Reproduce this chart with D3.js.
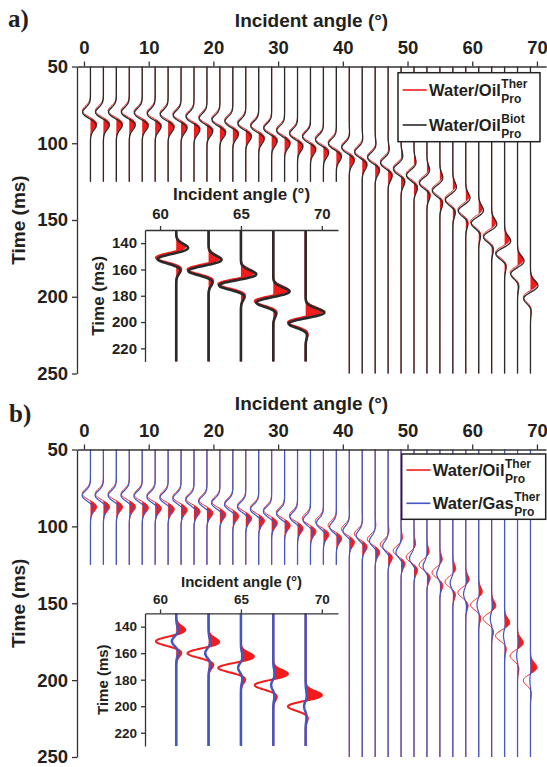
<!DOCTYPE html>
<html>
<head>
<meta charset="utf-8">
<script src="https://cdn.jsdelivr.net/npm/d3@7"></script>
<style>
  body { margin: 0; background: #fff; }
  svg text { font-family: "Liberation Sans", Arial, sans-serif; font-weight: bold; fill: #231f20; }
</style>
</head>
<body>
<svg id="chart" width="547" height="767"></svg>
<script>
// incident angles of the traces (deg)
var angles = [1,3,5,7,9,11,13,15,17,19,21,23,25,27,29,31,33,35,37,39,41,43,45,47,49,51,53,55,57,59,61,63,65,67,69];
var xTicks = [0,10,20,30,40,50,60,70];
var yTicks = [50,100,150,200,250];
var insetXTicks = [60,65,70];
var insetYTicks = [140,160,180,200,220];
var insetAngles = [61,63,65,67,69];

// Water/Oil, Biot model: time of the main trough (ms) and lobe amplitudes (deg of offset)
var tBiot     = [80,80,80,80,80.5,81,81.5,82,83,84,85,86,87.5,89,90.5,92,94,96,98,100.5,103,106,109.5,113,117,121,126,131,137,144,152,161,172,185,201];
var leadBiot  = [0,0,0,0,0,0,0,0,0,0,0,0,0,0,0,0,0,0,0,0,0.05,0.1,0.15,0.2,0.3,0.35,0.45,0.5,0.6,0.7,0.78,0.85,1.0,1.05,1.2];
var mainBiot  = [-1.25,-1.25,-1.25,-1.25,-1.25,-1.25,-1.25,-1.25,-1.25,-1.25,-1.25,-1.25,-1.25,-1.25,-1.25,-1.25,-1.25,-1.25,-1.25,-1.25,-1.2,-1.2,-1.2,-1.2,-1.2,-1.2,-1.2,-1.2,-1.2,-1.2,-1.2,-1.3,-1.4,-1.1,-1.1];
var trailBiot = [0.95,0.95,0.95,0.95,0.95,0.95,0.95,0.95,0.94,0.93,0.92,0.91,0.9,0.89,0.88,0.87,0.86,0.85,0.84,0.82,0.8,0.75,0.7,0.65,0.6,0.55,0.5,0.45,0.4,0.35,0.3,0.28,0.25,0.2,0.12];

// Water/Oil, thermal model
var tTher     = [79,79,79,79,79.5,80,80.5,81,82,83,84,85,86.5,88,89.5,91,93,95,97,99.5,102,105,108.5,112,116,120,125,130,136,143,151,160,171,184,200];
var leadTher  = [0,0,0,0,0,0,0,0,0,0,0,0,0,0,0,0,0,0,0,0,0.05,0.08,0.12,0.16,0.24,0.28,0.36,0.4,0.48,0.56,0.6,0.7,0.85,0.95,1.05];
var mainTher  = [-1.3,-1.3,-1.3,-1.3,-1.3,-1.3,-1.3,-1.3,-1.3,-1.3,-1.3,-1.3,-1.3,-1.3,-1.3,-1.3,-1.3,-1.3,-1.3,-1.3,-1.25,-1.25,-1.25,-1.25,-1.25,-1.25,-1.25,-1.25,-1.25,-1.25,-1.3,-1.35,-1.45,-1.2,-1.15];
var trailTher = [1.0,1.0,1.0,1.0,1.0,1.0,1.0,1.0,0.99,0.98,0.97,0.96,0.95,0.94,0.93,0.92,0.91,0.9,0.89,0.87,0.85,0.8,0.75,0.7,0.65,0.6,0.55,0.5,0.45,0.4,0.35,0.33,0.3,0.25,0.16];

// Water/Gas, thermal model
var tGas      = [80,80,80,80,80.5,81,81.5,82,83,84,85,86,87.5,89,90.5,92,94,96,98,100.5,103,106,109.5,113,117,121,126,131,137,144,151,160,171,184,200];
var leadGas   = [0,0,0,0,0,0,0,0,0,0,0,0,0,0,0,0,0,0,0,0,0,0,0,0,0,0,0,0.05,0.08,0.1,0.12,0.12,0.12,0.1,0.08];
var mainGas   = [-1.3,-1.3,-1.3,-1.3,-1.3,-1.3,-1.3,-1.3,-1.3,-1.3,-1.3,-1.3,-1.3,-1.3,-1.3,-1.25,-1.2,-1.15,-1.1,-1.05,-1.0,-0.95,-0.9,-0.85,-0.8,-0.7,-0.6,-0.5,-0.42,-0.35,-0.28,-0.22,-0.18,-0.14,-0.1];
var trailGas  = [0.5,0.5,0.5,0.5,0.5,0.5,0.5,0.5,0.5,0.5,0.5,0.5,0.5,0.5,0.5,0.48,0.46,0.44,0.42,0.4,0.38,0.35,0.32,0.3,0.28,0.25,0.22,0.2,0.18,0.15,0.13,0.12,0.1,0.08,0.06];

var legendNamesA = ['Water/Oil', 'Water/Oil'];
var legendSupA = ['Ther', 'Biot'];
var legendNamesB = ['Water/Oil', 'Water/Gas'];
var legendSupB = ['Ther', 'Ther'];

var RED = '#f21c1c', BLACK = '#2a2a2a', BLUE = '#4456c0';
var LOBE_DT = 8, LOBE_SIGMA = 3.2;

var therOil = {time: tTher, lead: leadTher, main: mainTher, trail: trailTher, color: RED, fill: true, w: 1.0};
var biotOil = {time: tBiot, lead: leadBiot, main: mainBiot, trail: trailBiot, color: BLACK, w: 1.3};
var therGas = {time: tGas, lead: leadGas, main: mainGas, trail: trailGas, color: BLUE, w: 1.25};

var svg = d3.select('#chart');

function pulse(u) { return Math.exp(-u*u/(2*LOBE_SIGMA*LOBE_SIGMA)); }

// samples of one trace between t0 and t1 (ms)
function traceSamples(s, i, t0, t1) {
    var pts = [];
    for (var t = t0; t <= t1 + 1e-9; t += 0.5) {
        var c = s.time[i];
        var v = s.lead[i]*pulse(t - c + LOBE_DT) + s.main[i]*pulse(t - c) + s.trail[i]*pulse(t - c - LOBE_DT);
        pts.push({t: t, v: v});
    }
    return pts;
}

function drawWiggles(g, x, y, idx, series, tFrom, tTo, scale) {
    var fills = g.append('g'), lines = g.append('g');
    series.forEach(function(s) {
        idx.forEach(function(i) {
            var a = angles[i];
            var pts = traceSamples(s, i, tFrom, tTo(a));
            if (s.fill) {
                fills.append('path').datum(pts)
                    .attr('d', d3.area().y(function(d) { return y(d.t); })
                        .x0(x(a)).x1(function(d) { return x(a + Math.max(d.v, 0)); }))
                    .attr('fill', s.color);
            }
            lines.append('path').datum(pts)
                .attr('d', d3.line().x(function(d) { return x(a + d.v); }).y(function(d) { return y(d.t); }))
                .attr('fill', 'none').attr('stroke', s.color).attr('stroke-width', s.w*scale);
        });
    });
}

function styleAxis(sel, size) {
    sel.attr('font-family', null).attr('font-size', null);
    sel.selectAll('text').style('font-size', size + 'px');
    sel.selectAll('line,path').attr('stroke', '#333').attr('stroke-width', 1.3);
}

var panels = [
    {top: 66.5, bottom: 373.5, tag: 'a)', tagX: 8, tagY: 27, titleY: 26.7, series: [therOil, biotOil],
     names: legendNamesA, sups: legendSupA,
     legend: {x: 398, y: 72.7, w: 142, h: 69, rows: [90, 125]},
     inset: {top: 230, bottom: 361.5, titleY: 200, titleSize: 17, tickSize: 15, pad: 7.5, labelX: 104, labelSize: 17}},
    {top: 449.5, bottom: 757, tag: 'b)', tagX: 9, tagY: 422, titleY: 410, series: [therOil, therGas],
     names: legendNamesB, sups: legendSupB,
     legend: {x: 401.7, y: 454, w: 144, h: 65.3, rows: [470, 503.3]},
     inset: {top: 613.4, bottom: 746, titleY: 587, titleSize: 15, tickSize: 13.5, pad: 5.4, labelX: 108, labelSize: 15}}
];

var x = d3.scaleLinear().domain([-1.08, 71.4]).range([77, 546]);
var xIn = d3.scaleLinear().domain([59.07, 71]).range([145, 338]);

panels.forEach(function(p) {
    var y = d3.scaleLinear().domain([50, 250]).range([p.top, p.bottom]);
    var g = svg.append('g');

    drawWiggles(g, x, y, d3.range(angles.length), p.series, 50, function(a) { return a < 40 ? 125 : 250; }, 1);

    g.append('g').attr('transform', 'translate(0,' + p.top + ')')
        .call(d3.axisTop(x).tickValues(xTicks).tickSize(5).tickSizeOuter(0).tickPadding(8))
        .call(styleAxis, 18.5);
    g.append('g').attr('transform', 'translate(77,0)')
        .call(d3.axisLeft(y).tickValues(yTicks).tickSize(5).tickSizeOuter(0).tickPadding(4))
        .call(styleAxis, 18.5);

    g.append('text').attr('x', 311.5).attr('y', p.titleY).attr('text-anchor', 'middle')
        .style('font-size', '19px').text('Incident angle (°)');
    g.append('text').attr('transform', 'translate(25,' + ((p.top + p.bottom)/2) + ') rotate(-90)')
        .attr('text-anchor', 'middle').style('font-size', '19px').text('Time (ms)');
    g.append('text').attr('x', p.tagX).attr('y', p.tagY)
        .style('font-family', '"Liberation Serif", "Times New Roman", serif').style('font-size', '25px')
        .text(p.tag);

    // legend
    var L = p.legend;
    var lg = g.append('g');
    lg.append('rect').attr('x', L.x).attr('y', L.y).attr('width', L.w).attr('height', L.h)
        .attr('fill', '#fff').attr('stroke', '#222').attr('stroke-width', 1.5);
    p.series.forEach(function(s, k) {
        var ry = L.rows[k];
        lg.append('line').attr('x1', L.x + 4.7).attr('x2', L.x + 28.7).attr('y1', ry).attr('y2', ry)
            .attr('stroke', s.color).attr('stroke-width', 1.6);
        var t = lg.append('text').attr('x', L.x + 31).attr('y', ry + 6).style('font-size', '16.5px').text(p.names[k]);
        var sx = L.x + 31 + t.node().getComputedTextLength() + 0.5;
        lg.append('text').attr('x', sx).attr('y', ry - 2.5).style('font-size', '12px').text(p.sups[k]);
        lg.append('text').attr('x', sx).attr('y', ry + 13).style('font-size', '12px').text('Pro');
    });

    // inset with the far-angle traces
    var I = p.inset;
    var yIn = d3.scaleLinear().domain([130, 230]).range([I.top, I.bottom]);
    var ig = g.append('g');
    var idx = insetAngles.map(function(a) { return angles.indexOf(a); });
    drawWiggles(ig, xIn, yIn, idx, p.series, 130, function() { return 230; }, 2);
    ig.append('g').attr('transform', 'translate(0,' + I.top + ')')
        .call(d3.axisTop(xIn).tickValues(insetXTicks).tickSize(4).tickSizeOuter(0).tickPadding(I.pad))
        .call(styleAxis, I.tickSize);
    ig.append('g').attr('transform', 'translate(145,0)')
        .call(d3.axisLeft(yIn).tickValues(insetYTicks).tickSize(4).tickSizeOuter(0).tickPadding(4))
        .call(styleAxis, I.tickSize);
    ig.append('text').attr('x', 241.5).attr('y', I.titleY).attr('text-anchor', 'middle')
        .style('font-size', I.titleSize + 'px').text('Incident angle (°)');
    ig.append('text').attr('transform', 'translate(' + I.labelX + ',' + ((I.top + I.bottom)/2) + ') rotate(-90)')
        .attr('text-anchor', 'middle').style('font-size', I.labelSize + 'px').text('Time (ms)');
});
</script>
</body>
</html>
